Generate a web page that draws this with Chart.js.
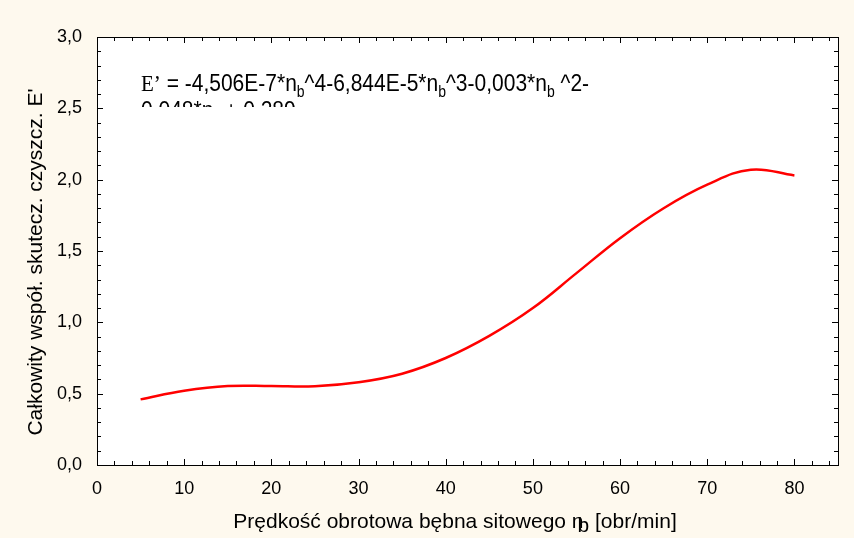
<!DOCTYPE html>
<html>
<head>
<meta charset="utf-8">
<script src="https://cdn.jsdelivr.net/npm/chart.js@4/dist/chart.umd.min.js"></script>
<style>
  html, body { margin: 0; padding: 0; background: #fef9ee; }
  #wrap { width: 854px; height: 538px; position: relative; }
</style>
</head>
<body>
<div id="wrap"><canvas id="chart" width="854" height="538"></canvas></div>
<script>
// Dane krzywej
const speeds = [5, 10, 15, 20, 25, 30, 35, 40, 45, 50, 55, 60, 65, 70, 75, 80];
const efficiency = [0.46, 0.52, 0.553, 0.553, 0.552, 0.58, 0.64, 0.75, 0.905, 1.10, 1.345, 1.59, 1.80, 1.965, 2.07, 2.03];
const xTicks = [0, 10, 20, 30, 40, 50, 60, 70, 80];
const yTicks = [0, 0.5, 1.0, 1.5, 2.0, 2.5, 3.0];

const FONT = '"Liberation Sans", Arial, sans-serif';

// Znaczniki osi skierowane do wewnątrz, ramka, równanie i tytuły osi
const framePlugin = {
    id: 'frame',
    afterDraw(chart) {
        const ctx = chart.ctx;
        const a = chart.chartArea;
        const xs = chart.scales.x;
        const ys = chart.scales.y;
        ctx.save();
        ctx.strokeStyle = '#000';
        ctx.lineWidth = 1;
        ctx.strokeRect(a.left + 0.5, a.top + 0.5, a.right - a.left, a.bottom - a.top);
        ctx.beginPath();
        for (let v = 0; v <= 84; v += 2) {
            const px = Math.round(xs.getPixelForValue(v)) + 0.5;
            const len = v % 10 === 0 ? 6 : 4;
            ctx.moveTo(px, a.bottom); ctx.lineTo(px, a.bottom - len);
            ctx.moveTo(px, a.top); ctx.lineTo(px, a.top + len);
        }
        for (let i = 0; i <= 30; i++) {
            const py = Math.round(ys.getPixelForValue(i / 10)) + 0.5;
            const len = i % 5 === 0 ? 6 : 4;
            ctx.moveTo(a.left, py); ctx.lineTo(a.left + len, py);
            ctx.moveTo(a.right, py); ctx.lineTo(a.right - len, py);
        }
        ctx.stroke();

        // równanie (druga linia ucięta)
        ctx.fillStyle = '#000';
        ctx.textBaseline = 'alphabetic';
        ctx.save();
        ctx.translate(0, 91);
        ctx.scale(1, 1.12);
        let x = 141;
        const parts = [
            ['E\u2019', '21px "Liberation Serif", serif', 0],
            [' = -4,506E-7*n', '21px ' + FONT, 0],
            ['b', '14px ' + FONT, 5],
            ['^4-6,844E-5*n', '21px ' + FONT, 0],
            ['b', '14px ' + FONT, 5],
            ['^3-0,003*n', '21px ' + FONT, 0],
            ['b', '14px ' + FONT, 5],
            [' ^2-', '21px ' + FONT, 0]
        ];
        parts.forEach(p => {
            ctx.font = p[1];
            ctx.fillText(p[0], x, p[2]);
            x += ctx.measureText(p[0]).width;
        });
        ctx.restore();
        ctx.save();
        ctx.beginPath();
        ctx.rect(130, 98, 300, 9);
        ctx.clip();
        ctx.translate(0, 118);
        ctx.scale(1, 1.12);
        ctx.font = '21px ' + FONT;
        ctx.fillText('0,048*n  + 0,289', 141, 0);
        ctx.restore();

        // tytuł osi X z indeksem dolnym
        const t1 = 'Prędkość obrotowa bębna sitowego n';
        const t2 = 'b';
        const t3 = ' [obr/min]';
        ctx.font = '21px ' + FONT;
        const w1 = ctx.measureText(t1).width;
        const w2 = ctx.measureText(t2).width;
        const w3 = ctx.measureText(t3).width;
        const total = w1 + w2 + w3 - 6;
        let tx = 455 - total / 2;
        const ty = 528;
        ctx.fillText(t1, tx, ty);
        tx += w1 - 6;
        ctx.fillText(t2, tx, ty + 4);
        tx += w2;
        ctx.fillText(t3, tx, ty);

        // tytuł osi Y
        ctx.save();
        ctx.translate(42, 262);
        ctx.rotate(-Math.PI / 2);
        ctx.textAlign = 'center';
        ctx.font = '21px ' + FONT;
        ctx.fillText('Całkowity współ. skutecz. czyszcz. E\'', 0, 0);
        ctx.restore();
        ctx.restore();
    }
};

const bgPlugin = {
    id: 'bg',
    beforeDraw(chart) {
        const ctx = chart.ctx;
        const a = chart.chartArea;
        ctx.save();
        ctx.fillStyle = '#fef9ee';
        ctx.fillRect(0, 0, chart.width, chart.height);
        ctx.fillStyle = '#ffffff';
        ctx.fillRect(a.left, a.top, a.right - a.left, a.bottom - a.top);
        ctx.restore();
    }
};

new Chart(document.getElementById('chart').getContext('2d'), {
    type: 'line',
    data: {
        datasets: [{
            data: speeds.map((s, i) => ({ x: s, y: efficiency[i] })),
            borderColor: '#ff0000',
            borderWidth: 2.5,
            pointRadius: 0,
            fill: false,
            tension: 0.4,
            cubicInterpolationMode: 'default'
        }]
    },
    options: {
        responsive: false,
        animation: false,
        layout: { padding: { left: 0, right: 16, top: 37, bottom: 0 } },
        plugins: { legend: { display: false }, tooltip: { enabled: false } },
        scales: {
            x: {
                type: 'linear',
                min: 0,
                max: 85,
                afterBuildTicks: s => { s.ticks = xTicks.map(v => ({ value: v })); },
                afterFit: s => { s.height = 538 - 465; },
                grid: { display: false, drawTicks: false },
                border: { display: false },
                ticks: {
                    padding: 13,
                    color: '#000',
                    font: { family: FONT, size: 18 },
                    maxRotation: 0
                }
            },
            y: {
                min: 0,
                max: 3,
                afterBuildTicks: s => { s.ticks = yTicks.map(v => ({ value: v })); },
                afterFit: s => { s.width = 97; },
                grid: { display: false, drawTicks: false },
                border: { display: false },
                ticks: {
                    padding: 15,
                    color: '#000',
                    font: { family: FONT, size: 18 },
                    callback: v => v.toFixed(1).replace('.', ',')
                }
            }
        }
    },
    plugins: [bgPlugin, framePlugin]
});
</script>
</body>
</html>
